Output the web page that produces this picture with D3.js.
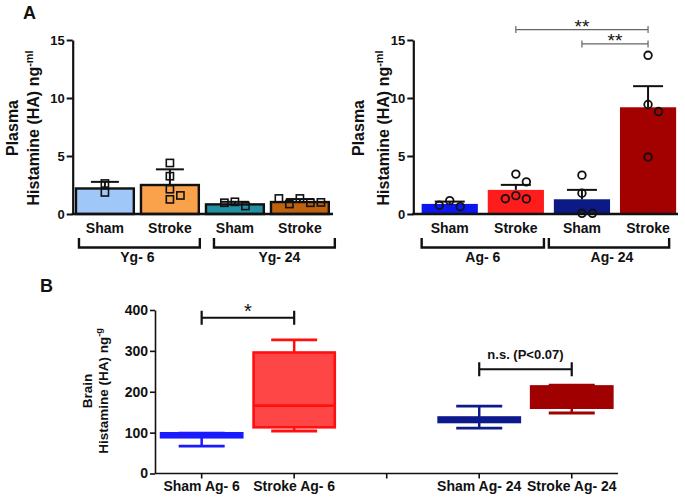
<!DOCTYPE html>
<html><head><meta charset="utf-8">
<script src="https://cdn.jsdelivr.net/npm/d3@7"></script>
<style>
body{margin:0;background:#fff}
svg{display:block}
text{font-family:"Liberation Sans",Arial,Helvetica,sans-serif;font-weight:bold;fill:#111}
</style>
</head><body>
<svg id="c" width="685" height="501"></svg>
<script>
// ---------- data ----------
const youngGroups = ["Sham", "Stroke", "Sham ", "Stroke "];
const youngTimes = ["Yg- 6", "Yg- 24"];
const youngMeans = [2.2, 2.5, 0.83, 1.03];
const youngSEM = [0.57, 1.35, 0.22, 0.26];
const youngPoints = [[1.86, 2.63], [4.4, 3.26, 2.14, 1.26, 1.6], [1.05, 0.69, 0.97], [1.34, 0.97, 0.86, 1.0, 1.34]];
const youngColors = ["#9fc7f7", "#f9a24b", "#1f91a3", "#c0610f"];

const agedGroups = ["Sham", "Stroke", "Sham ", "Stroke "];
const agedTimes = ["Ag- 6", "Ag- 24"];
const agedMeans = [0.87, 2.08, 1.27, 9.2];
const agedSEM = [0.2, 0.43, 0.81, 1.82];
const agedPoints = [[1.15, 0.63, 0.75], [3.44, 2.77, 1.58, 1.30, 1.32], [3.35, 1.79, 0.06, 0.06], [13.68, 9.44, 8.83, 4.91]];
const agedColors = ["#0b17ee", "#ff1c1c", "#0c1a85", "#a30000"];
const agedComparisons = [[1, 3, "**", 15.9], [2, 3, "**", 14.66]];

const plasmaTicks = [0, 5, 10, 15];

const brainCategories = ["Sham Ag- 6", "Stroke Ag- 6", " ", "Sham Ag- 24", "Stroke Ag- 24"];
const brainBoxCats = ["Sham Ag- 6", "Stroke Ag- 6", "Sham Ag- 24", "Stroke Ag- 24"];
const brainMin = [67, 104, 111, 148];
const brainQ1 = [88.7, 113, 126, 161];
const brainMedian = [92, 166, 131, 210];
const brainQ3 = [98.4, 296, 137, 213];
const brainMax = [99, 327, 165, 216];
const brainStroke = ["#1a1aff", "#ff1010", "#0d1a8c", "#a00000"];
const brainFill = ["#1a1aff", "#ff4646", "#0d1a8c", "#a00000"];
const brainTicks = [0, 100, 200, 300, 400];
const brainComparisons = [[0, 1, "*", 381], [3, 4, "n.s. (P<0.07)", 255]];

// ---------- drawing ----------
const svg = d3.select("#c");

function dodge(vals, y, r, step) {
  const placed = [];
  const order = [0, 1, -1, 2, -2, 3, -3];
  return vals.map(v => {
    const py = y(v);
    for (const o of order) {
      const px = o * step;
      if (placed.every(p => Math.hypot(p.x - px, p.y - py) >= 2 * r)) {
        placed.push({x: px, y: py});
        return {v, dx: px};
      }
    }
    return {v, dx: 0};
  });
}

function yLabel(g, x1, x2, cy, line1, line2, sup, fs) {
  g.append("text").attr("transform", `translate(${x1},${cy}) rotate(-90)`)
    .attr("text-anchor", "middle").style("font-size", fs + "px").text(line1);
  const t = g.append("text").attr("transform", `translate(${x2},${cy}) rotate(-90)`)
    .attr("text-anchor", "middle").style("font-size", fs + "px");
  t.append("tspan").text(line2);
  t.append("tspan").attr("dy", -6).style("font-size", (fs * 0.68) + "px").text(sup);
}

function barPanel(opt) {
  const g = svg.append("g");
  const x = d3.scaleBand().domain(opt.groups).range(opt.xr).paddingInner(opt.pi).paddingOuter(opt.pi / 2);
  const y = d3.scaleLinear().domain([0, 15]).range([214, 40]);
  const bw = x.bandwidth();

  // bars
  g.selectAll(".bar").data(opt.groups).join("rect")
    .attr("x", d => x(d)).attr("width", bw)
    .attr("y", (d, i) => y(opt.means[i])).attr("height", (d, i) => y(0) - y(opt.means[i]))
    .attr("fill", (d, i) => opt.colors[i])
    .attr("stroke", opt.outline ? "#111" : "none").attr("stroke-width", opt.outline ? 2.4 : 0);

  // error bars (upper)
  opt.groups.forEach((d, i) => {
    const cx = x(d) + bw / 2, top = y(opt.means[i] + opt.sem[i]);
    g.append("line").attr("x1", cx).attr("x2", cx).attr("y1", y(opt.means[i])).attr("y2", top)
      .attr("stroke", "#111").attr("stroke-width", 2);
    g.append("line").attr("x1", cx - opt.cap / 2).attr("x2", cx + opt.cap / 2).attr("y1", top).attr("y2", top)
      .attr("stroke", "#111").attr("stroke-width", 2);
  });

  // points
  opt.groups.forEach((d, i) => {
    const cx = x(d) + bw / 2;
    const pts = dodge(opt.points[i], y, 4, 10.5);
    pts.forEach(p => {
      if (opt.shape === "square") {
        g.append("rect").attr("x", cx + p.dx - 3.6).attr("y", y(p.v) - 3.6).attr("width", 7.2).attr("height", 7.2)
          .attr("fill", "none").attr("stroke", "#111").attr("stroke-width", 1.6);
      } else {
        g.append("circle").attr("cx", cx + p.dx).attr("cy", y(p.v)).attr("r", 3.8)
          .attr("fill", "none").attr("stroke", "#111").attr("stroke-width", 1.8);
      }
    });
  });

  // y axis
  const ya = g.append("g").attr("transform", `translate(${opt.axisX},0)`)
    .call(d3.axisLeft(y).tickValues(plasmaTicks).tickSize(6).tickSizeOuter(0).tickFormat(d3.format("d")));
  ya.select(".domain").attr("stroke", "#111").attr("stroke-width", 2.2);
  ya.selectAll(".tick line").attr("stroke", "#111").attr("stroke-width", 2);
  ya.selectAll(".tick text").style("font-size", "13px").style("font-family", '"Liberation Sans",Arial,sans-serif')
    .style("font-weight", "bold").attr("fill", "#111").attr("dx", 1);

  // x axis line
  g.append("line").attr("x1", opt.axisX - 1).attr("x2", opt.axisEnd).attr("y1", y(0)).attr("y2", y(0))
    .attr("stroke", "#111").attr("stroke-width", 2.4);

  // category labels
  g.selectAll(".cat").data(opt.groups).join("text")
    .attr("x", d => x(d) + bw / 2).attr("y", 233).attr("text-anchor", "middle")
    .style("font-size", "14px").text(d => d.trim());

  // group brackets
  opt.times.forEach((t, k) => {
    const a = opt.groups[k * 2], b = opt.groups[k * 2 + 1];
    const x1 = x(a) + opt.bOff[k][0], x2 = x(b) + bw + opt.bOff[k][1];
    g.append("path").attr("d", `M${x1},238 V247.5 H${x2} V238`)
      .attr("fill", "none").attr("stroke", "#111").attr("stroke-width", 2.4);
    g.append("text").attr("x", (x1 + x2) / 2 + opt.lOff[k]).attr("y", 262).attr("text-anchor", "middle")
      .style("font-size", "14px").text(t);
  });

  yLabel(g, opt.lab[0], opt.lab[1], 128, "Plasma", "Histamine (HA) ng", "-ml", 16);
  return {x, y, g, bw};
}

// Panel A left (young)
barPanel({
  groups: youngGroups, means: youngMeans, sem: youngSEM, points: youngPoints, colors: youngColors,
  times: youngTimes, xr: [72.4, 332.4], pi: 0.11, axisX: 72.7, axisEnd: 333, outline: true,
  shape: "square", cap: 28, bOff: [[3, 1], [8, 6]], lOff: [-2, 5], lab: [18, 39]
});

// Panel A right (aged)
const R = barPanel({
  groups: agedGroups, means: agedMeans, sem: agedSEM, points: agedPoints, colors: agedColors,
  times: agedTimes, xr: [416.7, 681.1], pi: 0.15, axisX: 413.3, axisEnd: 678, outline: false,
  shape: "circle", cap: 30, bOff: [[0, 0], [-5, -7]], lOff: [0, 3], lab: [364, 388.5]
});

// significance in aged panel
agedComparisons.forEach(([a, b, lab, lev]) => {
  const x1 = R.x(agedGroups[a]) + R.bw / 2, x2 = R.x(agedGroups[b]) + R.bw / 2, yy = R.y(lev);
  R.g.append("path").attr("d", `M${x1},${yy - 3.5} V${yy + 3.5} M${x1},${yy} H${x2} M${x2},${yy - 3.5} V${yy + 3.5}`)
    .attr("fill", "none").attr("stroke", "#666").attr("stroke-width", 1.2);
  R.g.append("text").attr("x", (x1 + x2) / 2).attr("y", yy + 3).attr("text-anchor", "middle")
    .style("font-size", "19px").style("font-weight", "normal").attr("fill", "#222").text(lab);
});

// Panel labels
svg.append("text").attr("x", 23).attr("y", 19).style("font-size", "18px").text("A");
svg.append("text").attr("x", 40).attr("y", 292).style("font-size", "18px").text("B");

// ---------- Panel B ----------
const gb = svg.append("g");
const xb = d3.scaleBand().domain(brainCategories).range([155.4, 618]).paddingInner(0.09).paddingOuter(0.045);
const yb = d3.scaleLinear().domain([0, 400]).range([473.5, 310]);
const bwb = xb.bandwidth();

brainBoxCats.forEach((c, i) => {
  const cx = xb(c) + bwb / 2, cap = 46;
  const col = brainStroke[i];
  // whiskers
  gb.append("line").attr("x1", cx).attr("x2", cx).attr("y1", yb(brainMax[i])).attr("y2", yb(brainQ3[i]))
    .attr("stroke", col).attr("stroke-width", 2.5);
  gb.append("line").attr("x1", cx).attr("x2", cx).attr("y1", yb(brainQ1[i])).attr("y2", yb(brainMin[i]))
    .attr("stroke", col).attr("stroke-width", 2.5);
  [brainMax[i], brainMin[i]].forEach(v => {
    gb.append("line").attr("x1", cx - cap / 2).attr("x2", cx + cap / 2).attr("y1", yb(v)).attr("y2", yb(v))
      .attr("stroke", col).attr("stroke-width", 2.8);
  });
  // box
  gb.append("rect").attr("x", xb(c) + 1.5).attr("width", bwb - 3)
    .attr("y", yb(brainQ3[i])).attr("height", yb(brainQ1[i]) - yb(brainQ3[i]))
    .attr("fill", brainFill[i]).attr("stroke", col).attr("stroke-width", 2.6);
  gb.append("line").attr("x1", xb(c) + 1.5).attr("x2", xb(c) + bwb - 1.5)
    .attr("y1", yb(brainMedian[i])).attr("y2", yb(brainMedian[i]))
    .attr("stroke", col).attr("stroke-width", 2.6);
});

// axes B
const yab = gb.append("g").attr("transform", "translate(155,0)")
  .call(d3.axisLeft(yb).tickValues(brainTicks).tickSize(5).tickSizeOuter(0));
yab.select(".domain").attr("stroke", "#111").attr("stroke-width", 1.6);
yab.selectAll(".tick line").attr("stroke", "#111").attr("stroke-width", 1.6);
yab.selectAll(".tick text").style("font-size", "14px").style("font-family", '"Liberation Sans",Arial,sans-serif')
  .style("font-weight", "bold").attr("fill", "#111").attr("dx", 1);

const xab = gb.append("g").attr("transform", `translate(0,${yb(0)})`)
  .call(d3.axisBottom(xb).tickSize(5).tickSizeOuter(0));
xab.select(".domain").attr("stroke", "#111").attr("stroke-width", 1.6).attr("d", `M155,0H618`);
xab.selectAll(".tick line").attr("stroke", "#111").attr("stroke-width", 1.6);
xab.selectAll(".tick text").style("font-size", "14px").style("font-family", '"Liberation Sans",Arial,sans-serif')
  .style("font-weight", "bold").attr("fill", "#111").attr("y", 8);

// comparisons B
brainComparisons.forEach(([a, b, lab, lev]) => {
  const x1 = xb(brainCategories[a]) + bwb / 2, x2 = xb(brainCategories[b]) + bwb / 2, yy = yb(lev);
  gb.append("path").attr("d", `M${x1},${yy - 7} V${yy + 7} M${x1},${yy} H${x2} M${x2},${yy - 7} V${yy + 7}`)
    .attr("fill", "none").attr("stroke", "#111").attr("stroke-width", 2.2);
  const isStar = lab === "*";
  gb.append("text").attr("x", (x1 + x2) / 2).attr("y", isStar ? yy - 0 : yy - 10)
    .attr("text-anchor", "middle").style("font-size", isStar ? "20px" : "13px")
    .style("font-weight", isStar ? "normal" : "bold").text(lab);
});

yLabel(gb, 91.5, 108, 391, "Brain", "Histamine (HA) ng", "-g", 13.5);
</script>
</body></html>
